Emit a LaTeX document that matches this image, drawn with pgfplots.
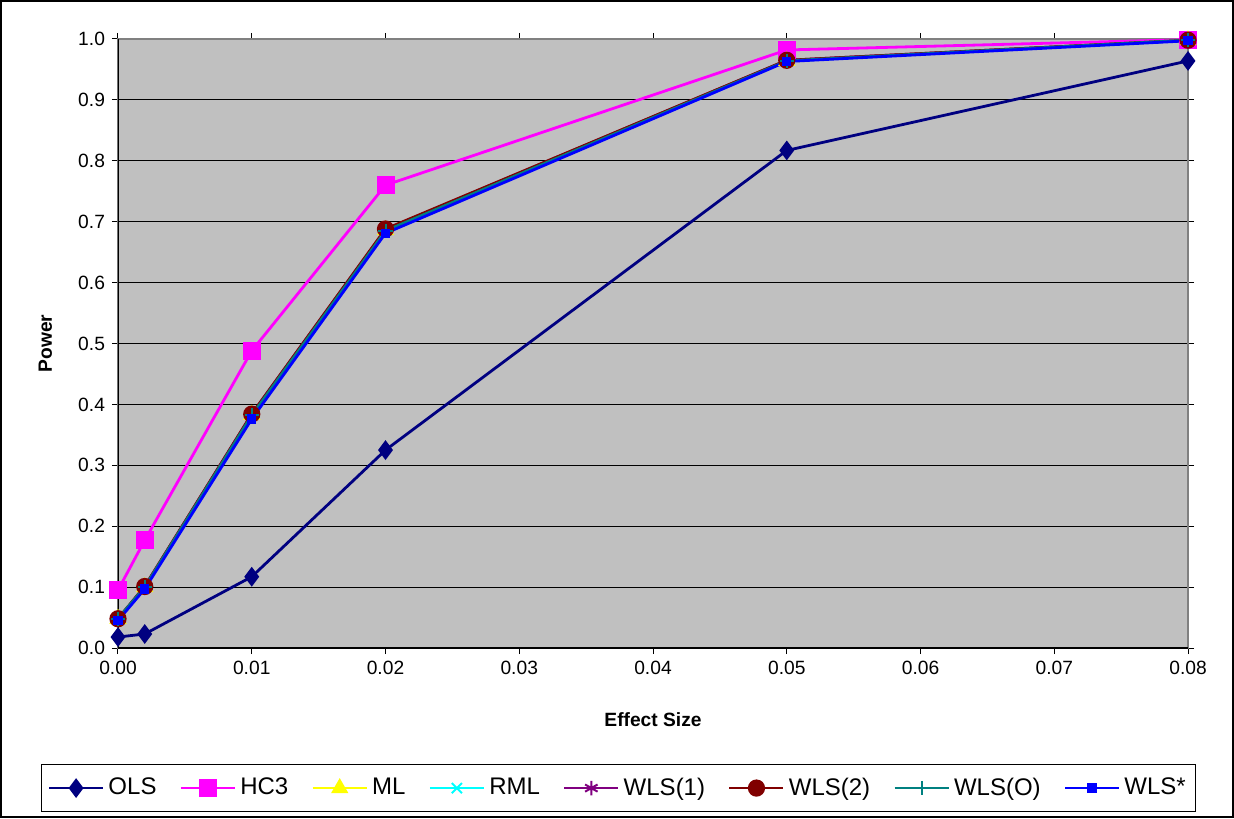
\documentclass[border=0pt]{standalone}
\usepackage{fontspec}
\setmainfont{Liberation Sans}
\usepackage{pgfplots}
\pgfplotsset{compat=1.18}

\definecolor{olsc}{HTML}{000080}
\definecolor{hcc}{HTML}{FF00FF}
\definecolor{mlc}{HTML}{FFFF00}
\definecolor{rmlc}{HTML}{00FFFF}
\definecolor{wls1c}{HTML}{800080}
\definecolor{wls2c}{HTML}{800000}
\definecolor{wlsoc}{HTML}{008080}
\definecolor{wlssc}{HTML}{0000FF}
\definecolor{plotbg}{HTML}{C0C0C0}

\begin{document}
\begin{tikzpicture}
% chart frame
\draw[black, line width=0.8pt, fill=white] (0.4pt,0.4pt) rectangle (616.6pt,408.6pt);
\begin{axis}[
  at={(59pt,85pt)}, anchor=south west,
  scale only axis, width=535pt, height=304.5pt,
  xmin=0, xmax=0.08, ymin=0, ymax=1,
  xtick={0,0.01,...,0.08}, ytick={0,0.1,...,1.0},
  scaled x ticks=false, scaled y ticks=false,
  xticklabel style={/pgf/number format/fixed, /pgf/number format/fixed zerofill, /pgf/number format/precision=2},
  yticklabel style={/pgf/number format/fixed, /pgf/number format/fixed zerofill, /pgf/number format/precision=1},
  /pgf/number format/assume math mode=true,
  tick label style={font=\fontsize{9.6}{11}\selectfont},
  tick align=outside, major tick length=3pt,
  tick style={black, line width=0.5pt},
  ymajorgrids, major grid style={black, line width=0.5pt},
  axis background/.style={fill=plotbg},
  axis line style={draw=gray, line width=1.4pt},
  xlabel={\textbf{Effect Size}}, ylabel={\textbf{Power}},
  label style={font=\fontsize{9.6}{11}\selectfont},
  xlabel style={at={(axis description cs:0.5,-0.118)}, anchor=center},
  ylabel style={at={(axis description cs:-0.068,0.5)}, anchor=center, rotate=0},
  legend columns=-1,
  legend style={at={(0.468,-0.23)}, anchor=center, draw=black, line width=0.6pt,
    font=\fontsize{12}{14}\selectfont, inner xsep=3pt, inner ysep=4.5pt,
    /tikz/every even column/.append style={column sep=9.5pt}},
  legend image code/.code={
    \draw[#1, mark=none] (0pt,0pt) -- (27pt,0pt);
    \draw[#1, only marks] plot coordinates {(13.5pt,0pt)};
  },
  every axis plot/.append style={line width=1.4pt},
]
\addplot[olsc, mark=diamond*, mark size=3.8pt, mark options={solid}] coordinates {
  (0,0.018) (0.002,0.023) (0.01,0.117) (0.02,0.325) (0.05,0.817) (0.08,0.964)};
\addlegendentry{OLS}
\addplot[hcc, mark=square*, mark size=3.8pt] coordinates {
  (0,0.095) (0.002,0.177) (0.01,0.488) (0.02,0.760) (0.05,0.982) (0.08,0.999)};
\addlegendentry{HC3}
\addplot[mlc, mark=triangle*, mark size=3.6pt] coordinates {
  (0,0.048) (0.002,0.100) (0.01,0.383) (0.02,0.686) (0.05,0.964) (0.08,0.998)};
\addlegendentry{ML}
\addplot[rmlc, mark=x, mark size=3.6pt, mark options={line width=1pt}] coordinates {
  (0,0.048) (0.002,0.100) (0.01,0.382) (0.02,0.685) (0.05,0.964) (0.08,0.998)};
\addlegendentry{RML}
\addplot[wls1c, mark=asterisk, mark size=3.6pt, mark options={line width=1pt}] coordinates {
  (0,0.048) (0.002,0.101) (0.01,0.384) (0.02,0.687) (0.05,0.965) (0.08,0.998)};
\addlegendentry{WLS(1)}
\addplot[wls2c, mark=*, mark size=3.6pt] coordinates {
  (0,0.048) (0.002,0.101) (0.01,0.384) (0.02,0.688) (0.05,0.965) (0.08,0.998)};
\addlegendentry{WLS(2)}
\addplot[wlsoc, mark=+, mark size=3.6pt, mark options={line width=1pt}] coordinates {
  (0,0.048) (0.002,0.100) (0.01,0.382) (0.02,0.685) (0.05,0.964) (0.08,0.998)};
\addlegendentry{WLS(O)}
\addplot[wlssc, mark=square*, mark size=1.6pt] coordinates {
  (0,0.045) (0.002,0.097) (0.01,0.376) (0.02,0.681) (0.05,0.963) (0.08,0.997)};
\addlegendentry{WLS*}
% black left and bottom axis lines over the gray frame
\draw[black, line width=0.6pt] (rel axis cs:0,0) -- (rel axis cs:0,1);
\draw[black, line width=0.6pt] (rel axis cs:0,0) -- (rel axis cs:1,0);
\end{axis}
\end{tikzpicture}
\end{document}
